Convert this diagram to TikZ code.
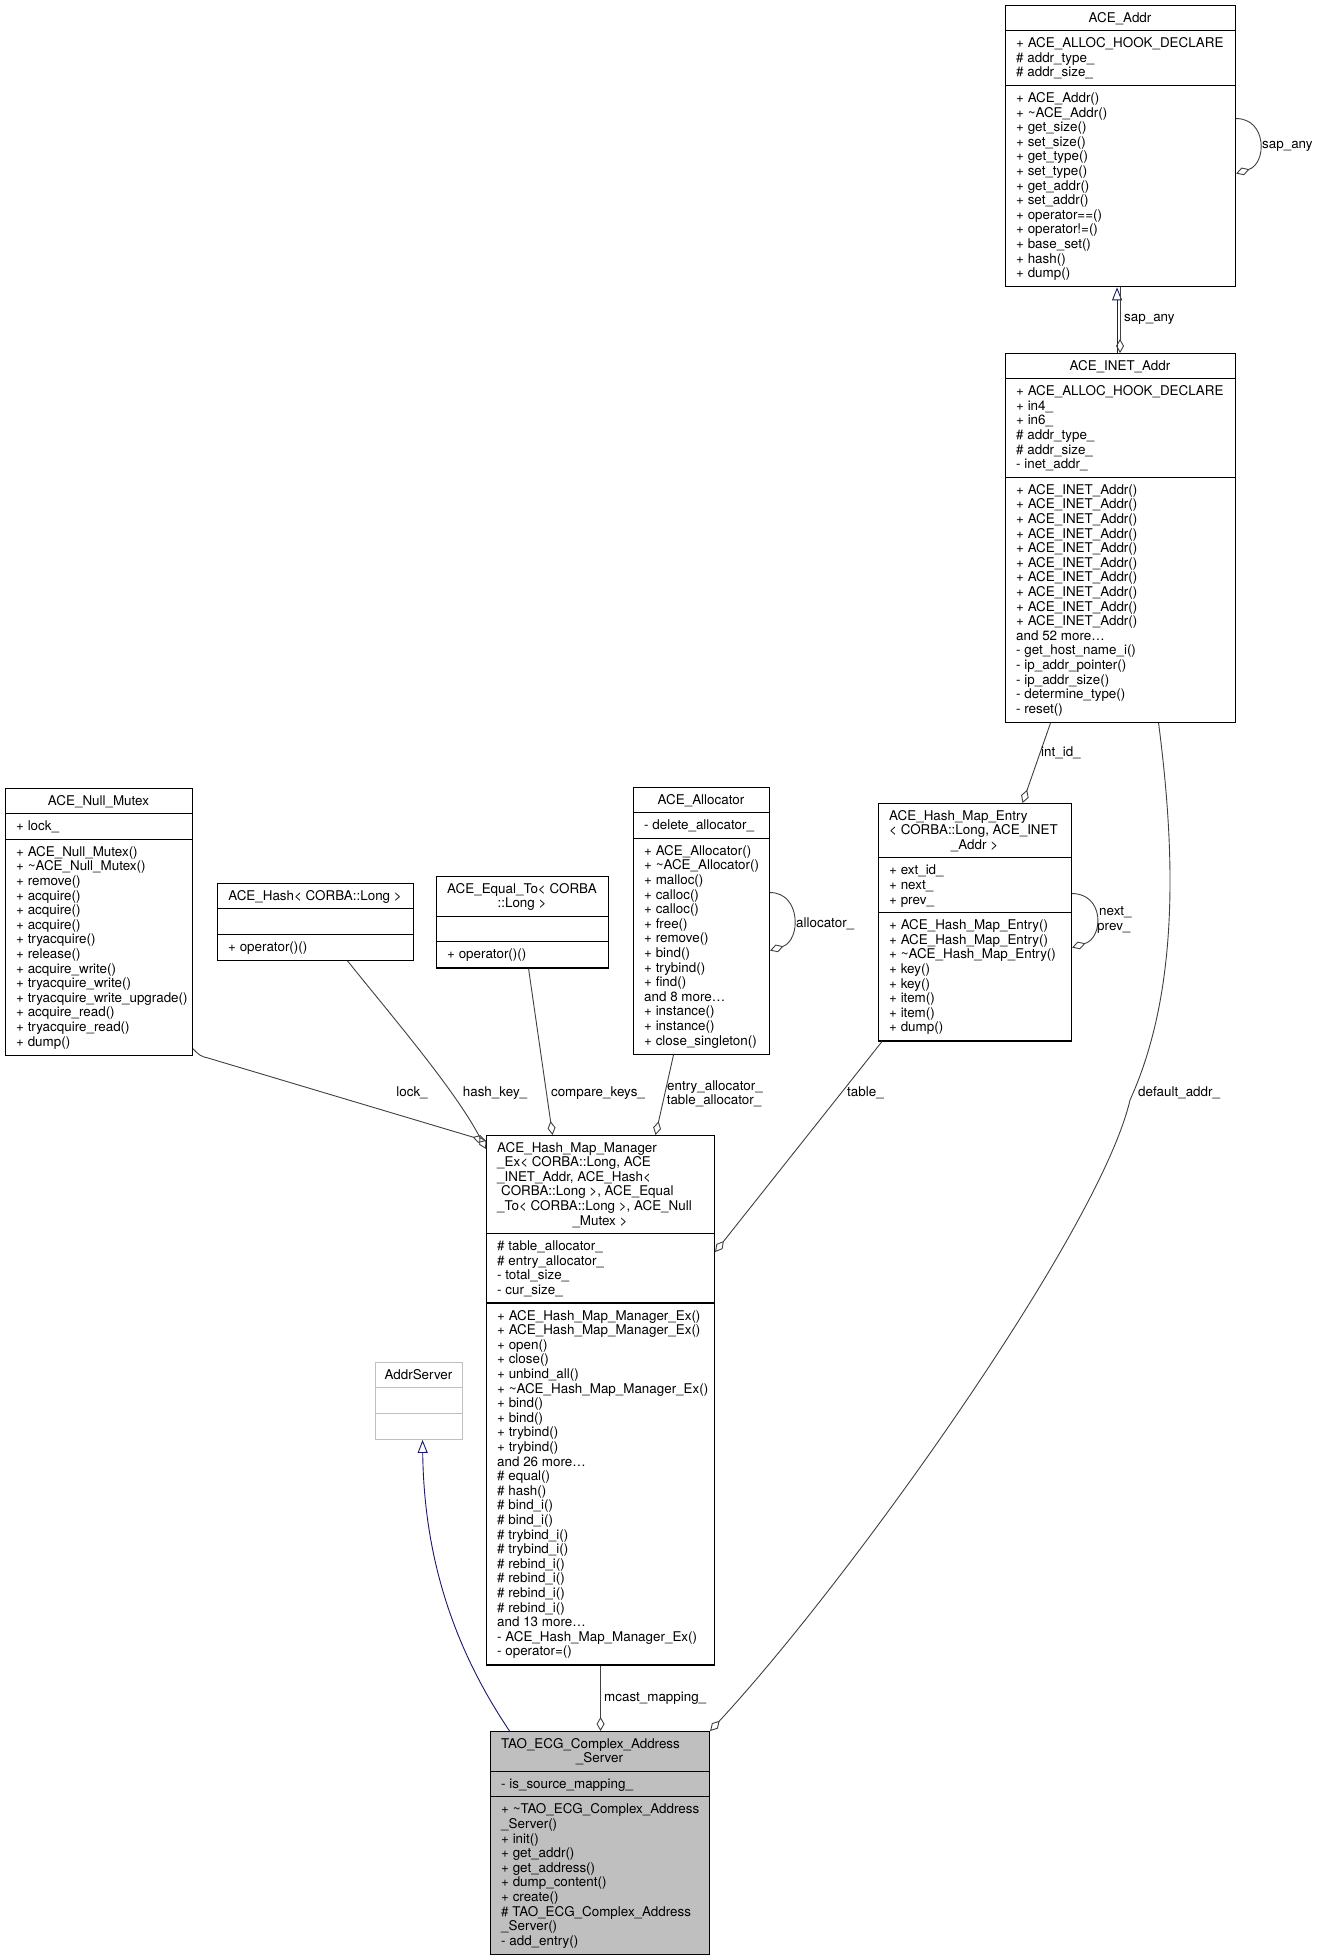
\documentclass[tikz,border=0pt]{standalone}
\usepackage{fontspec}
\setmainfont{TeX Gyre Heros}
\usetikzlibrary{arrows.meta}
\definecolor{edgegray}{HTML}{404040}
\definecolor{navyblue}{HTML}{191970}
\definecolor{boxgray}{HTML}{BFBFBF}
\newcommand\fs{\fontsize{13.4pt}{14.6pt}\selectfont}
\newcommand\mytilde{\textasciitilde}
\newcommand\Lines[4]{\foreach \mytext [count=\i from 0] in {#4} {\node[txt, anchor=base west] (#1\i) at ({#2},{#3+\i*14.6}) {\mytext};}}
\tikzset{
  clsbox/.style={draw=black, line width=1.1pt, rectangle, inner sep=0pt, anchor=north west},
  divline/.style={draw=black, line width=1.1pt},
  txt/.style={inner sep=0pt, font=\fs, text=black},
  aggedge/.style={draw=edgegray, line width=0.9pt, -{Diamond[open, length=14pt, width=8pt, line width=0.9pt]}},
  inh/.style={draw=navyblue, line width=0.9pt, -{Triangle[open, length=13pt, width=10pt, line width=0.9pt]}},
}
\begin{document}
\begin{tikzpicture}[x=1pt, y=-1pt]
\fill[white] (0,0) rectangle (1317,1960);
\useasboundingbox (0,0) rectangle (1317,1960);

% ---------- ACE_Addr
\node[clsbox, minimum width=230pt, minimum height=281.2pt] (addr) at (1005,5) {};
\draw[divline] (1005,30.6) -- (1235,30.6);
\draw[divline] (1005,85.4) -- (1235,85.4);
\node[txt, anchor=base] (addrT) at (1120,22) {ACE\_Addr};
\Lines{addrA}{1016}{47.6}{+ ACE\_ALLOC\_HOOK\_DECLARE, \# addr\_type\_, \# addr\_size\_}
\Lines{addrM}{1016}{102.4}{+ ACE\_Addr(), + \mytilde ACE\_Addr(), + get\_size(), + set\_size(), + get\_type(), + set\_type(), + get\_addr(), + set\_addr(), + operator==(), + operator!=(), + base\_set(), + hash(), + dump()}

% ---------- ACE_INET_Addr
\node[clsbox, minimum width=230pt, minimum height=368.8pt] (inet) at (1005,353) {};
\draw[divline] (1005,378.6) -- (1235,378.6);
\draw[divline] (1005,477.2) -- (1235,477.2);
\node[txt, anchor=base] (inetT) at (1120,370) {ACE\_INET\_Addr};
\Lines{inetA}{1016}{395.6}{+ ACE\_ALLOC\_HOOK\_DECLARE, + in4\_, + in6\_, \# addr\_type\_, \# addr\_size\_, - inet\_addr\_}
\Lines{inetM}{1016}{494.2}{+ ACE\_INET\_Addr(), + ACE\_INET\_Addr(), + ACE\_INET\_Addr(), + ACE\_INET\_Addr(), + ACE\_INET\_Addr(), + ACE\_INET\_Addr(), + ACE\_INET\_Addr(), + ACE\_INET\_Addr(), + ACE\_INET\_Addr(), + ACE\_INET\_Addr(), and 52 more…, - get\_host\_name\_i(), - ip\_addr\_pointer(), - ip\_addr\_size(), - determine\_type(), - reset()}

% ---------- ACE_Null_Mutex
\node[clsbox, minimum width=187pt, minimum height=266.6pt] (mutex) at (5,788) {};
\draw[divline] (5,813.6) -- (192,813.6);
\draw[divline] (5,839.2) -- (192,839.2);
\node[txt, anchor=base] (mutexT) at (98.5,805) {ACE\_Null\_Mutex};
\Lines{mutexA}{16}{830.6}{+ lock\_}
\Lines{mutexM}{16}{856.2}{+ ACE\_Null\_Mutex(), + \mytilde ACE\_Null\_Mutex(), + remove(), + acquire(), + acquire(), + acquire(), + tryacquire(), + release(), + acquire\_write(), + tryacquire\_write(), + tryacquire\_write\_upgrade(), + acquire\_read(), + tryacquire\_read(), + dump()}

% ---------- ACE_Hash<CORBA::Long>
\node[clsbox, minimum width=196pt, minimum height=76.8pt] (hash) at (217,883) {};
\draw[divline] (217,908.6) -- (413,908.6);
\draw[divline] (217,934.2) -- (413,934.2);
\node[txt, anchor=base] (hashT) at (315,900) {ACE\_Hash< CORBA::Long >};
\Lines{hashM}{228}{951.2}{+ operator()()}

% ---------- ACE_Equal_To
\node[clsbox, minimum width=172pt, minimum height=91.4pt] (eq) at (436,876) {};
\draw[divline] (436,916.2) -- (608,916.2);
\draw[divline] (436,941.8) -- (608,941.8);
\node[txt, anchor=base] (eqT1) at (522,893) {ACE\_Equal\_To< CORBA};
\node[txt, anchor=base] (eqT2) at (522,907.6) {::Long >};
\Lines{eqM}{447}{958.8}{+ operator()()}

% ---------- ACE_Allocator
\node[clsbox, minimum width=136pt, minimum height=266.6pt] (alloc) at (633,787) {};
\draw[divline] (633,812.6) -- (769,812.6);
\draw[divline] (633,838.2) -- (769,838.2);
\node[txt, anchor=base] (allocT) at (701,804) {ACE\_Allocator};
\Lines{allocA}{644}{829.6}{- delete\_allocator\_}
\Lines{allocM}{644}{855.2}{+ ACE\_Allocator(), + \mytilde ACE\_Allocator(), + malloc(), + calloc(), + calloc(), + free(), + remove(), + bind(), + trybind(), + find(), and 8 more…, + instance(), + instance(), + close\_singleton()}

% ---------- ACE_Hash_Map_Entry
\node[clsbox, minimum width=193pt, minimum height=237.4pt] (hme) at (878,803) {};
\draw[divline] (878,857.8) -- (1071,857.8);
\draw[divline] (878,912.6) -- (1071,912.6);
\node[txt, anchor=base west] (hmeT1) at (889,820) {ACE\_Hash\_Map\_Entry};
\node[txt, anchor=base west] (hmeT2) at (889,834.6) {< CORBA::Long, ACE\_INET};
\node[txt, anchor=base] (hmeT3) at (974.5,849.2) {\_Addr >};
\Lines{hmeA}{889}{874.8}{+ ext\_id\_, + next\_, + prev\_}
\Lines{hmeM}{889}{929.6}{+ ACE\_Hash\_Map\_Entry(), + ACE\_Hash\_Map\_Entry(), + \mytilde ACE\_Hash\_Map\_Entry(), + key(), + key(), + item(), + item(), + dump()}

% ---------- ACE_Hash_Map_Manager_Ex
\node[clsbox, minimum width=228pt, minimum height=529.4pt] (hmm) at (486,1135) {};
\draw[divline] (486,1233.6) -- (714,1233.6);
\draw[divline] (486,1303) -- (714,1303);
\node[txt, anchor=base west] (hmmT1) at (497,1152) {ACE\_Hash\_Map\_Manager};
\node[txt, anchor=base west] (hmmT2) at (497,1166.6) {\_Ex< CORBA::Long, ACE};
\node[txt, anchor=base west] (hmmT3) at (497,1181.2) {\_INET\_Addr, ACE\_Hash<};
\node[txt, anchor=base west] (hmmT4) at (501,1195.8) {CORBA::Long >, ACE\_Equal};
\node[txt, anchor=base west] (hmmT5) at (497,1210.4) {\_To< CORBA::Long >, ACE\_Null};
\node[txt, anchor=base] (hmmT6) at (600,1225) {\_Mutex >};
\Lines{hmmA}{497}{1250.6}{\# table\_allocator\_, \# entry\_allocator\_, - total\_size\_, - cur\_size\_}
\Lines{hmmM}{497}{1320}{+ ACE\_Hash\_Map\_Manager\_Ex(), + ACE\_Hash\_Map\_Manager\_Ex(), + open(), + close(), + unbind\_all(), + \mytilde ACE\_Hash\_Map\_Manager\_Ex(), + bind(), + bind(), + trybind(), + trybind(), and 26 more…, \# equal(), \# hash(), \# bind\_i(), \# bind\_i(), \# trybind\_i(), \# trybind\_i(), \# rebind\_i(), \# rebind\_i(), \# rebind\_i(), \# rebind\_i(), and 13 more…, - ACE\_Hash\_Map\_Manager\_Ex(), - operator=()}

% ---------- AddrServer
\node[clsbox, draw=boxgray, minimum width=87pt, minimum height=76.8pt] (as) at (375,1362) {};
\draw[divline, draw=boxgray] (375,1387.6) -- (462,1387.6);
\draw[divline, draw=boxgray] (375,1413.2) -- (462,1413.2);
\node[txt, anchor=base] (asT) at (418.5,1379) {AddrServer};

% ---------- TAO_ECG_Complex_Address_Server
\node[clsbox, fill=boxgray, minimum width=219pt, minimum height=222.8pt] (tao) at (490,1731) {};
\draw[divline] (490,1771.2) -- (709,1771.2);
\draw[divline] (490,1796.8) -- (709,1796.8);
\node[txt, anchor=base west] (taoT1) at (501,1748) {TAO\_ECG\_Complex\_Address};
\node[txt, anchor=base] (taoT2) at (599.5,1762.6) {\_Server};
\Lines{taoA}{501}{1788.2}{- is\_source\_mapping\_}
\Lines{taoM}{501}{1813.8}{+ \mytilde TAO\_ECG\_Complex\_Address, \_Server(), + init(), + get\_addr(), + get\_address(), + dump\_content(), + create(), \# TAO\_ECG\_Complex\_Address, \_Server(), - add\_entry()}

% ---------- connectors
% ACE_Addr self loop
\draw[aggedge] ([yshift=27.6pt]addr.east) .. controls +(31,0) and +(31,-10) .. ([yshift=-27.4pt]addr.east);
% inheritance INET -> Addr and sap_any member
\draw[inh] ([xshift=-3.5pt]inet.north) -- ([xshift=-3.5pt]addr.south);
\draw[aggedge] ([xshift=-0.5pt]addr.south) -- ([xshift=-0.5pt]inet.north);
% int_id_
\draw[aggedge] ([xshift=-70pt]inet.south) -- ([xshift=47.5pt]hme.north);
% Allocator self loop
\draw[aggedge] ([yshift=28.3pt]alloc.east) .. controls +(31,0) and +(31,-10) .. ([yshift=-29.7pt]alloc.east);
% Hash_Map_Entry self loop
\draw[aggedge] ([yshift=28.7pt]hme.east) .. controls +(32,0) and +(32,-10) .. ([yshift=-25.3pt]hme.east);
% lock_
\draw[aggedge] ([yshift=7pt]mutex.south east) .. controls +(5,6) and +(-6,-1) .. (208,1058) -- ([yshift=-6pt]hmm.north west);
% hash_key_
\draw[aggedge] ([xshift=32pt]hash.south) .. controls (395,1020) and (455,1090) .. ([yshift=-14pt]hmm.north west);
% compare_keys_
\draw[aggedge] ([xshift=6pt]eq.south) -- ([xshift=-48pt]hmm.north);
% entry/table allocator
\draw[aggedge] ([xshift=-28pt]alloc.south) -- ([xshift=55pt]hmm.north);
% table_
\draw[aggedge] ([xshift=4pt]hme.south west) -- ([yshift=-117pt]hmm.north east);
% default_addr_
\draw[aggedge] ([xshift=38pt]inet.south) .. controls (1175,850) and (1180,990) .. (1130,1100) .. controls (1100,1230) and (850,1580) .. (tao.north east);
% mcast_mapping_
\draw[aggedge] (hmm.south) -- (hmm.south |- tao.north);
% inheritance TAO -> AddrServer
\draw[inh] ([xshift=-90.5pt]tao.north) .. controls (455,1650) and (424,1560) .. ([xshift=3.5pt]as.south);

% ---------- labels
\node[txt, anchor=west] (l1) at (1262,146) {sap\_any};
\node[txt, anchor=west] (l2) at (1124,319) {sap\_any};
\node[txt, anchor=west] (l3) at (1041,753) {int\_id\_};
\node[txt, anchor=west] (l4) at (796,924) {allocator\_};
\node[txt, anchor=west] (l5) at (1099,912) {next\_};
\node[txt, anchor=west] (l6) at (1097,928) {prev\_};
\node[txt] (l7) at (412,1093) {lock\_};
\node[txt] (l8) at (495,1093) {hash\_key\_};
\node[txt] (l9) at (598,1093) {compare\_keys\_};
\node[txt] (l10) at (715,1087) {entry\_allocator\_};
\node[txt] (l11) at (714,1101) {table\_allocator\_};
\node[txt, anchor=west] (l12) at (847,1093) {table\_};
\node[txt, anchor=west] (l13) at (1138,1093) {default\_addr\_};
\node[txt, anchor=west] (l14) at (604,1698) {mcast\_mapping\_};
\end{tikzpicture}
\end{document}
